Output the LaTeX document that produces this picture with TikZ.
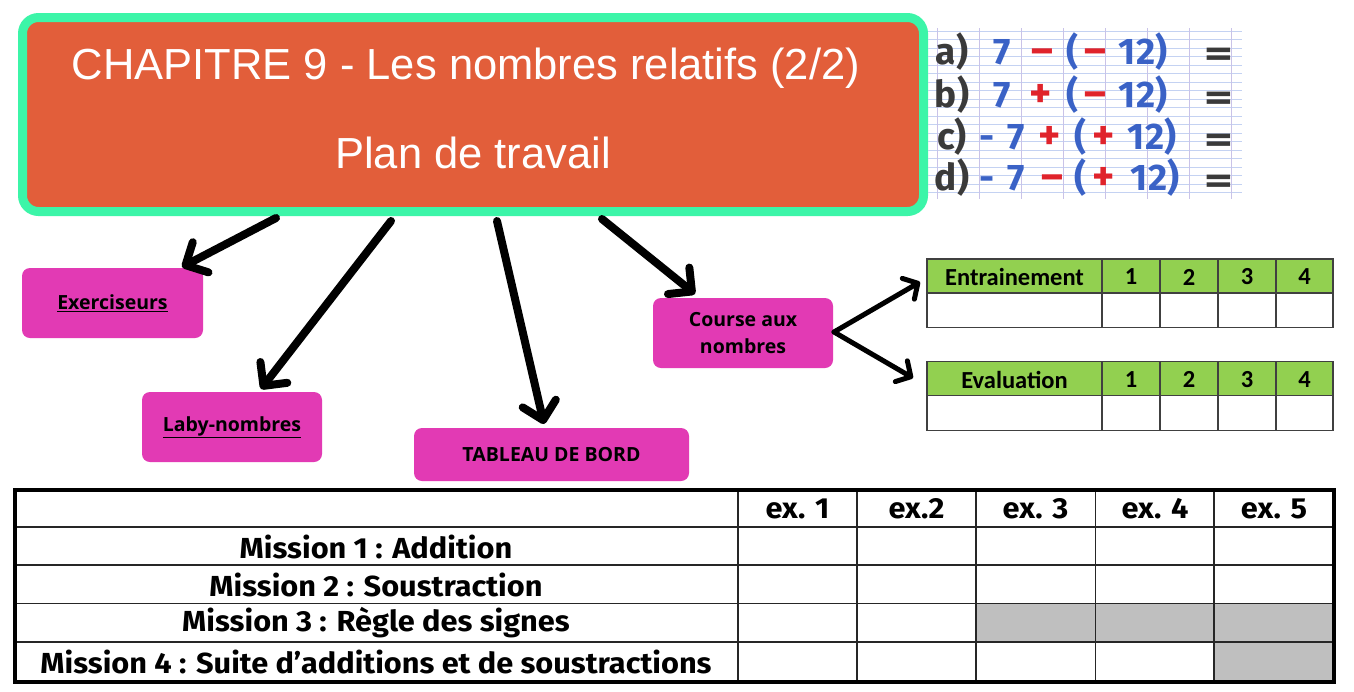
\documentclass[tikz,border=0pt]{standalone}
\usepackage{fontspec}
\setmainfont{Liberation Sans}
\newfontfamily\titlefont{Liberation Sans}
\newfontfamily\boxfont{Open Sans}
\newfontfamily\calfont{Carlito}
\newfontfamily\condfont[FakeStretch=1.06]{Fira Sans}
\newfontfamily\handfont{Fira Sans}
\usetikzlibrary{arrows.meta}
\definecolor{mint}{HTML}{3CF5A8}
\definecolor{orng}{HTML}{E25E3A}
\definecolor{mag}{HTML}{E23AB4}
\definecolor{lgreen}{HTML}{92D050}
\definecolor{cellgray}{HTML}{BFBFBF}
\definecolor{hblue}{HTML}{3A62C6}
\definecolor{hred}{HTML}{E0232B}
\definecolor{hgrid}{HTML}{C4D2F2}
\definecolor{vgrid}{HTML}{C9C3E8}
\definecolor{hblack}{HTML}{3A3A3A}
\tikzset{
  magbox/.style={fill=mag, rounded corners=8pt, inner sep=0pt, align=center,
    font=\boxfont\bfseries\fontsize{19.5}{27}\selectfont},
  bigarrow/.style={line width=8pt, line cap=round, -{Straight Barb[round,length=17pt,width=34pt]}},
  smallarrow/.style={line width=5pt, line cap=round, -{Straight Barb[round,length=11pt,width=24pt]}},
  hand/.style={inner sep=0pt, anchor=base, font=\handfont\bfseries\fontsize{37}{37}\selectfont},
  hb/.style={hand, text=hblue},
  hr/.style={hand, text=hred, font=\handfont\bfseries\fontsize{42}{42}\selectfont},
  hk/.style={hand, text=hblack},
  heq/.style={hand, text=hblack, xscale=1.5},
  caltxt/.style={font=\calfont\bfseries\fontsize{24.5}{24.5}\selectfont, inner sep=0pt},
  condtxt/.style={font=\condfont\bfseries\fontsize{29}{29}\selectfont, inner sep=0pt},
}
\begin{document}
\begin{tikzpicture}[x=1pt,y=-1pt]
\useasboundingbox (0,0) rectangle (1354,691);
\fill[white] (0,0) rectangle (1354,691);

% title box
\node[draw=mint, line width=9pt, fill=orng, rounded corners=16pt, minimum width=901pt, minimum height=194pt, inner sep=0pt] (title) at (473,114.5) {};
\node[text=white, font=\titlefont\fontsize{43.5}{48}\selectfont, inner sep=0pt] (t1) at (466,68) {CHAPITRE 9 - Les nombres relatifs (2/2)};
\node[text=white, font=\titlefont\fontsize{43.5}{48}\selectfont, inner sep=0pt] (t2) at (473,153) {Plan de travail};

% handwritten exercise picture
\begin{scope}
\clip (928,28) rectangle (1242,199);
\foreach \y in {31,39.5,...,199} \draw[hgrid, line width=0.8pt] (928,\y) -- (1242,\y);
\foreach \x in {937,979,...,1242} \draw[vgrid, line width=1pt] (\x,28) -- (\x,199);
\end{scope}
% row a (baseline 64)
\node[hk] (la) at (952,64) {a)};
\node[hb] (a1) at (1002,64) {7};
\node[hr] (a2) at (1042,64) {–};
\node[hb] (a3) at (1072,64) {(};
\node[hr] (a4) at (1095,64) {–};
\node[hb] (a5) at (1143,64) {12)};
\node[heq] (qa) at (1219,66) {=};
% row b
\node[hk] (lb) at (952,107) {b)};
\node[hb] (b1) at (1002,107) {7};
\node[hr] (b2) at (1041,107) {+};
\node[hb] (b3) at (1072,107) {(};
\node[hr] (b4) at (1095,107) {–};
\node[hb] (b5) at (1143,107) {12)};
\node[heq] (qb) at (1219,110) {=};
% row c
\node[hk] (lc) at (952,149) {c)};
\node[hb] (c0) at (987,149) {-};
\node[hb] (c1) at (1016,149) {7};
\node[hr] (c2) at (1050,149) {+};
\node[hb] (c3) at (1080,149) {(};
\node[hr] (c4) at (1104,149) {+};
\node[hb] (c5) at (1152,149) {12)};
\node[heq] (qc) at (1219,152) {=};
% row d
\node[hk] (ld) at (952,190) {d)};
\node[hb] (d0) at (987,190) {-};
\node[hb] (d1) at (1016,190) {7};
\node[hr] (d2) at (1052,190) {–};
\node[hb] (d3) at (1080,190) {(};
\node[hr] (d4) at (1104,190) {+};
\node[hb] (d5) at (1155,190) {12)};
\node[heq] (qd) at (1219,193) {=};

% magenta boxes
\node[magbox, minimum width=181pt, minimum height=70pt] (exer) at (112.5,303) {\underline{Exerciseurs}};
\node[magbox, minimum width=180pt, minimum height=70pt] (laby) at (232,427) {\underline{Laby-nombres}};
\node[magbox, minimum width=275pt, minimum height=53pt] (tab) at (551.5,454.5) {TABLEAU DE BORD};
\node[magbox, minimum width=180pt, minimum height=70pt] (course) at (743,333) {Course aux\\nombres};

% big arrows
\coordinate (s1) at (276,218); \coordinate (e1) at (182,267);
\coordinate (s2) at (391,221); \coordinate (e2) at (261,389);
\coordinate (s3) at (497,221); \coordinate (e3) at (544,424);
\coordinate (s4) at (602,219); \coordinate (e4) at (695,294);
\draw[bigarrow] (s1) -- (e1);
\draw[bigarrow] (s2) -- (e2);
\draw[bigarrow] (s3) -- (e3);
\draw[bigarrow] (s4) -- (e4);

% course arrows
\coordinate (cs) at (834,332);
\coordinate (ce1) at (920,282);
\coordinate (ce2) at (913,378);
\draw[smallarrow] (cs) -- (ce1);
\draw[smallarrow] (cs) -- (ce2);

% small tables
\foreach \top/\name/\lab in {259/ent/Entrainement, 361.7/eva/Evaluation}{
  \fill[lgreen] (927,\top) rectangle (1333,\top+34);
  \draw[black!75, line width=1.2pt] (927,\top) rectangle (1333,\top+68.5);
  \draw[black!75, line width=1.2pt] (927,\top+34) -- (1333,\top+34);
  \foreach \x in {1102,1160,1218,1276} \draw[black!75, line width=1.2pt] (\x,\top) -- (\x,\top+68.5);
  \node[caltxt] (\name h) at (1014.5,\top+18) {\lab};
  \node[caltxt] (\name 1) at (1131,\top+18) {1};
  \node[caltxt] (\name 2) at (1189,\top+18) {2};
  \node[caltxt] (\name 3) at (1247,\top+18) {3};
  \node[caltxt] (\name 4) at (1304.5,\top+18) {4};
}

% bottom table
\fill[cellgray] (976,603.5) rectangle (1334,642);
\fill[cellgray] (1214,642) rectangle (1334,682);
\foreach \y in {527,565,603.5,642} \draw[black!85, line width=1.5pt] (15,\y) -- (1334,\y);
\foreach \x in {738,857,976,1095.5,1214} \draw[black!85, line width=1.5pt] (\x,490) -- (\x,682);
\draw[black, line width=4pt] (15,490) rectangle (1334,682);
\node[condtxt] (m1) at (376,546.5) {Mission 1 : Addition};
\node[condtxt] (m2) at (376,584.5) {Mission 2 : Soustraction};
\node[condtxt] (m3) at (376,623) {Mission 3 : Règle des signes};
\node[condtxt] (m4) at (376,661.5) {Mission 4 : Suite d’additions et de soustractions};
\node[condtxt] (x1) at (797.5,508.5) {ex. 1};
\node[condtxt] (x2) at (916.5,508.5) {ex.2};
\node[condtxt] (x3) at (1035.5,508.5) {ex. 3};
\node[condtxt] (x4) at (1155,508.5) {ex. 4};
\node[condtxt] (x5) at (1274,508.5) {ex. 5};
\end{tikzpicture}
\end{document}
